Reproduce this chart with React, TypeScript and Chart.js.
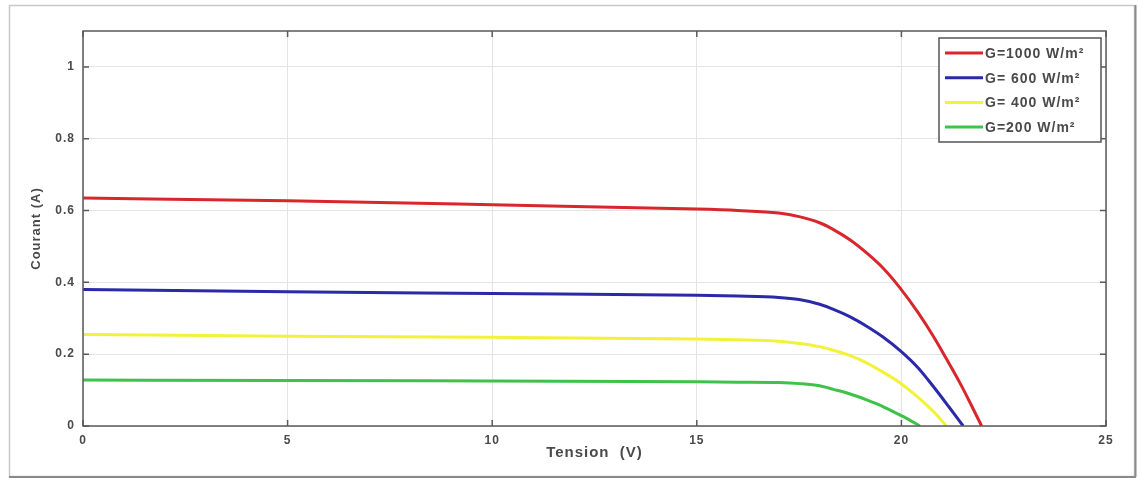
import React, { useEffect, useRef } from "react";
import { Chart, registerables } from "chart.js";

Chart.register(...registerables);

// Tension (V) sample points and current (A) per irradiance level
const vRed = [0, 5, 10, 15, 16, 17, 17.5, 18, 18.34, 18.75, 19.15, 19.55, 19.97, 20.4, 20.78, 21.1, 21.43, 21.7, 21.96];
const iRed = [0.635, 0.627, 0.616, 0.604, 0.6, 0.593, 0.583, 0.566, 0.547, 0.518, 0.482, 0.44, 0.384, 0.317, 0.25, 0.187, 0.12, 0.06, 0];
const vBlue = [0, 5, 10, 15, 16, 17, 17.5, 18, 18.34, 18.75, 19.15, 19.55, 19.97, 20.4, 20.78, 21.15, 21.51];
const iBlue = [0.38, 0.374, 0.369, 0.364, 0.362, 0.358, 0.352, 0.339, 0.325, 0.304, 0.278, 0.248, 0.21, 0.163, 0.11, 0.055, 0];
const vYellow = [0, 5, 10, 15, 16, 17, 17.52, 18, 18.34, 18.75, 19.15, 19.55, 19.97, 20.3, 20.62, 20.87, 21.1];
const iYellow = [0.255, 0.25, 0.247, 0.242, 0.24, 0.236, 0.23, 0.221, 0.211, 0.196, 0.176, 0.15, 0.12, 0.09, 0.058, 0.03, 0];
const vGreen = [0, 5, 10, 15, 16, 17, 17.52, 18, 18.34, 18.75, 19.15, 19.5, 19.8, 20.15, 20.45];
const iGreen = [0.128, 0.127, 0.125, 0.123, 0.122, 0.121, 0.118, 0.112, 0.102, 0.089, 0.073, 0.057, 0.04, 0.02, 0];

const seriesLabels = ["G=1000 W/m²", "G= 600 W/m²", "G= 400 W/m²", "G=200 W/m²"];
const seriesColors = ["#d8262c", "#2a2aa8", "#f2f23a", "#3fc24a"];
const xTicks = [0, 5, 10, 15, 20, 25];
const yTicks = [0, 0.2, 0.4, 0.6, 0.8, 1];

const toPts = (xs: number[], ys: number[]) => xs.map((x, i) => ({ x, y: ys[i] }));

const FONT = "'Liberation Sans', Arial, sans-serif";

const spacingPlugin = {
  id: "spacing",
  beforeUpdate(chart: any) {
    chart.ctx.letterSpacing = "1px";
  },
  beforeDraw(chart: any) {
    chart.ctx.letterSpacing = "1px";
  },
};

const framePlugin = {
  id: "frame",
  beforeDraw(chart: any) {
    const ctx = chart.ctx;
    ctx.save();
    ctx.fillStyle = "#ffffff";
    ctx.fillRect(0, 0, chart.width, chart.height);
    ctx.strokeStyle = "#c8c8c8";
    ctx.lineWidth = 1.5;
    ctx.strokeRect(9.5, 5.5, 1125, 471);
    ctx.strokeStyle = "#8a8a8a";
    ctx.lineWidth = 2;
    ctx.beginPath();
    ctx.moveTo(9, 477);
    ctx.lineTo(1136, 477);
    ctx.moveTo(1135.5, 5);
    ctx.lineTo(1135.5, 477);
    ctx.stroke();
    ctx.restore();
  },
  afterDraw(chart: any) {
    const ctx = chart.ctx;
    const a = chart.chartArea;
    const xs = chart.scales.x;
    const ys = chart.scales.y;
    ctx.save();
    ctx.strokeStyle = "#5a5a5a";
    ctx.lineWidth = 1.5;
    ctx.strokeRect(a.left, a.top, a.right - a.left, a.bottom - a.top);
    ctx.beginPath();
    const tl = 6;
    xTicks.forEach((v) => {
      const px = xs.getPixelForValue(v);
      ctx.moveTo(px, a.bottom);
      ctx.lineTo(px, a.bottom - tl);
      ctx.moveTo(px, a.top);
      ctx.lineTo(px, a.top + tl);
    });
    yTicks.forEach((v) => {
      const py = ys.getPixelForValue(v);
      ctx.moveTo(a.left, py);
      ctx.lineTo(a.left + tl, py);
      ctx.moveTo(a.right, py);
      ctx.lineTo(a.right - tl, py);
    });
    ctx.stroke();

    // legend box
    const bx = 939, by = 38, bw = 162, bh = 104;
    ctx.fillStyle = "#ffffff";
    ctx.fillRect(bx, by, bw, bh);
    ctx.strokeStyle = "#555555";
    ctx.lineWidth = 1.5;
    ctx.strokeRect(bx, by, bw, bh);
    ctx.font = `bold 14px ${FONT}`;
    ctx.letterSpacing = "1px";
    ctx.textBaseline = "middle";
    ctx.textAlign = "left";
    chart.data.datasets.forEach((ds: any, i: number) => {
      const ly = 53 + i * 24.7;
      ctx.strokeStyle = ds.borderColor;
      ctx.lineWidth = 3;
      ctx.beginPath();
      ctx.moveTo(945, ly);
      ctx.lineTo(983, ly);
      ctx.stroke();
      ctx.fillStyle = "#4a4a4a";
      ctx.fillText(ds.label, 985, ly + 1);
    });
    ctx.restore();
  },
};

export default function App() {
  const ref = useRef<HTMLCanvasElement>(null);
  useEffect(() => {
    if (!ref.current) return;
    const xs = [vRed, vBlue, vYellow, vGreen];
    const is = [iRed, iBlue, iYellow, iGreen];
    const chart = new Chart(ref.current, {
      type: "scatter",
      data: {
        datasets: seriesLabels.map((label, k) => ({
          label,
          data: toPts(xs[k], is[k]),
          showLine: true,
          borderColor: seriesColors[k],
          backgroundColor: seriesColors[k],
          borderWidth: 3,
          pointRadius: 0,
          cubicInterpolationMode: "monotone" as const,
        })),
      },
      options: {
        animation: false,
        responsive: false,
        devicePixelRatio: 1,
        layout: { padding: { left: 0, top: 31, right: 32, bottom: 0 } },
        plugins: { legend: { display: false }, tooltip: { enabled: false } },
        scales: {
          x: {
            type: "linear",
            min: 0,
            max: 25,
            afterFit: (s: any) => { s.height = 53; },
            afterBuildTicks: (s: any) => { s.ticks = xTicks.map((v) => ({ value: v })); },
            grid: { color: "#e4e4e4", lineWidth: 1, drawTicks: false },
            border: { display: false },
            ticks: { padding: 7, color: "#4a4a4a", font: { family: FONT, size: 12, weight: "bold" } },
            title: {
              display: true,
              text: "Tension  (V)",
              color: "#4a4a4a",
              padding: { top: 0, bottom: 17 },
              font: { family: FONT, size: 15, weight: "bold" },
            },
          },
          y: {
            type: "linear",
            min: 0,
            max: 1.1,
            afterFit: (s: any) => { s.width = 83; },
            afterBuildTicks: (s: any) => { s.ticks = yTicks.map((v) => ({ value: v })); },
            grid: { color: "#e4e4e4", lineWidth: 1, drawTicks: false },
            border: { display: false },
            ticks: {
              padding: 8,
              color: "#4a4a4a",
              font: { family: FONT, size: 12, weight: "bold" },
              callback: (v: any) => String(Math.round(Number(v) * 10) / 10),
            },
            title: {
              display: true,
              text: "Courant (A)",
              color: "#4a4a4a",
              padding: { top: 29, bottom: 0 },
              font: { family: FONT, size: 13, weight: "bold" },
            },
          },
        },
      },
      plugins: [spacingPlugin, framePlugin],
    });
    return () => chart.destroy();
  }, []);
  return (
    <div style={{ position: "absolute", left: 0, top: 0, width: 1138, height: 479 }}>
      <canvas ref={ref} width={1138} height={479} style={{ display: "block", width: 1138, height: 479 }} />
    </div>
  );
}
